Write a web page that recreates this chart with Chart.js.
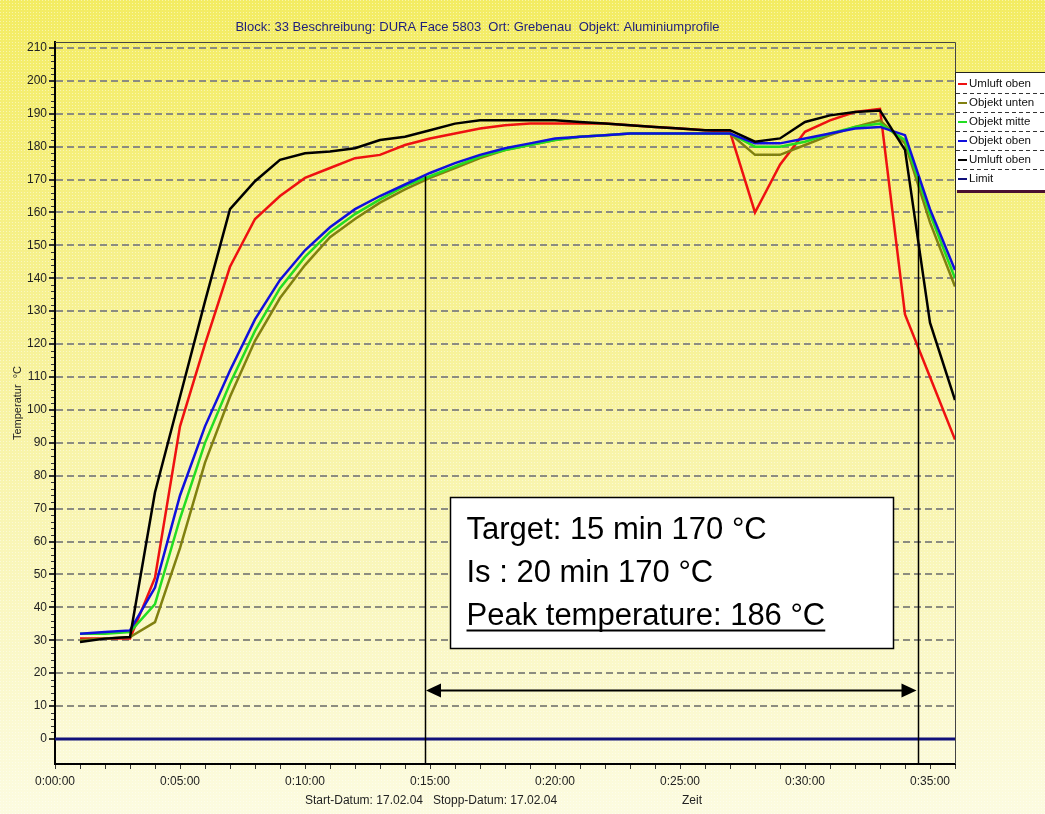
<!DOCTYPE html>
<html>
<head>
<meta charset="utf-8">
<script src="https://cdn.jsdelivr.net/npm/chart.js@4.4.1/dist/chart.umd.min.js"></script>
<style>
  html, body { margin: 0; padding: 0; background: #fbf9d0; }
  #wrap { width: 1045px; height: 814px; }
</style>
</head>
<body>
<div id="wrap"><canvas id="ofenChart" width="1045" height="814"></canvas></div>
<script>
// Messwerte je Minute (0:01:00 ... 0:36:00)
const minutes = [1,2,3,4,5,6,7,8,9,10,11,12,13,14,15,16,17,18,19,20,21,22,23,24,25,26,27,28,29,30,31,32,33,34,35,36];
const umluftObenRot = [30.5,30.5,30.5,49,95,120,143.5,158,165,170.5,173.5,176.5,177.5,180.5,182.5,184,185.5,186.5,187,187,187,187,186.5,186,185.5,185,184.5,160,174.5,184.5,188,190.5,191.5,129,110,91];
const objektUnten = [30,30.5,31,35.5,58,84,104,121,134,144,152.5,158,163,167,170.5,173.5,176.5,179,180.5,182,183,183.5,184,184,184,184,184,177.5,177.5,180.5,183.5,186,188,181,157,137.5];
const objektMitte = [32,32,32.5,41,67,90,108,124,137,146.5,154,159.5,164,168,171,174,177,179,180.5,182,183,183.5,184,184,184,184,184,180,180,181.5,184,186,187,182,159.5,140];
const objektOben = [32,32.5,33,46,74,95,112,127.5,139.5,148.5,155.5,161,165,168.5,172,175,177.5,179.5,181,182.5,183,183.5,184,184,184,184,184,181,181,182.5,184,185.5,186,183.5,161,142.5];
const umluftObenSchwarz = [29.5,30.5,31,75,104,133,161,169.5,176,178,178.5,179.5,182,183,185,187,188,188,188,188,187.5,187,186.5,186,185.5,185,185,181.5,182.5,187.5,189.5,190.5,191,179,126.5,103];
const limitX = [0, 36];
const limitY = [0, 0];

const seriesNames = ["Umluft oben", "Objekt unten", "Objekt mitte", "Objekt oben", "Umluft oben", "Limit"];
const seriesColors = ["#ee1111", "#808010", "#22dd22", "#1010dd", "#000000", "#10107a"];

const yTicks = [0,10,20,30,40,50,60,70,80,90,100,110,120,130,140,150,160,170,180,190,200,210];
const xTickMinutes = [0,1,2,3,4,5,6,7,8,9,10,11,12,13,14,15,16,17,18,19,20,21,22,23,24,25,26,27,28,29,30,31,32,33,34,35,36];
const timeLabels = ["0:00:00","0:05:00","0:10:00","0:15:00","0:20:00","0:25:00","0:30:00","0:35:00"];

const chartTitle = "Block: 33 Beschreibung: DURA Face 5803  Ort: Grebenau  Objekt: Aluminiumprofile";
const datumText = "Start-Datum: 17.02.04   Stopp-Datum: 17.02.04";
const zeitText = "Zeit";
const noteLines = ["Target: 15 min 170 °C", "Is : 20 min 170 °C", "Peak temperature: 186 °C"];

// Markierungen (Minuten / °C)
const markerMinutes = [14.8, 34.5];
const markerTop = 171;
const arrowLevel = 15;
const noteBox = { x1: 15.8, x2: 33.5, y1: 73.5, y2: 27.5 };

const FONT = "'Liberation Sans', Arial, sans-serif";

const allSeries = [umluftObenRot, objektUnten, objektMitte, objektOben, umluftObenSchwarz];
const datasets = allSeries.map((vals, i) => ({
  label: seriesNames[i],
  data: vals.map((v, j) => ({ x: minutes[j], y: v })),
  borderColor: seriesColors[i],
  backgroundColor: seriesColors[i],
  borderWidth: 2.5,
  order: 10 - i
}));
datasets.push({
  label: seriesNames[5],
  data: limitX.map((x, j) => ({ x: x, y: limitY[j] })),
  borderColor: seriesColors[5],
  backgroundColor: seriesColors[5],
  borderWidth: 3,
  order: 1
});

const backgroundPlugin = {
  id: "background",
  beforeDraw(chart) {
    const { ctx, width, height } = chart;
    const g = ctx.createLinearGradient(0, 0, 0, height);
    g.addColorStop(0, "#f3ec62");
    g.addColorStop(0.45, "#f7f29c");
    g.addColorStop(1, "#fcfbe0");
    ctx.save();
    ctx.fillStyle = g;
    ctx.fillRect(0, 0, width, height);
    const tile = document.createElement("canvas");
    tile.width = 3; tile.height = 3;
    const tctx = tile.getContext("2d");
    tctx.fillStyle = "rgba(255,255,255,0.45)";
    tctx.fillRect(0, 0, 1, 1);
    ctx.fillStyle = ctx.createPattern(tile, "repeat");
    ctx.fillRect(0, 0, width, height);
    ctx.restore();
  }
};

const overlayPlugin = {
  id: "overlay",
  afterDatasetsDraw(chart) {
    const { ctx, chartArea } = chart;
    const xs = chart.scales.x, ys = chart.scales.y;
    ctx.save();

    // vertical markers
    ctx.strokeStyle = "#000";
    ctx.lineWidth = 1.5;
    markerMinutes.forEach(m => {
      const px = Math.round(xs.getPixelForValue(m)) + 0.5;
      ctx.beginPath();
      ctx.moveTo(px, ys.getPixelForValue(markerTop));
      ctx.lineTo(px, chartArea.bottom);
      ctx.stroke();
    });

    // double arrow
    const ax1 = xs.getPixelForValue(markerMinutes[0]) + 1;
    const ax2 = xs.getPixelForValue(markerMinutes[1]) - 1;
    const ay = Math.round(ys.getPixelForValue(arrowLevel)) + 0.5;
    ctx.lineWidth = 2;
    ctx.beginPath();
    ctx.moveTo(ax1 + 10, ay);
    ctx.lineTo(ax2 - 10, ay);
    ctx.stroke();
    ctx.fillStyle = "#000";
    ctx.beginPath();
    ctx.moveTo(ax1, ay); ctx.lineTo(ax1 + 15, ay - 7); ctx.lineTo(ax1 + 15, ay + 7); ctx.closePath();
    ctx.fill();
    ctx.beginPath();
    ctx.moveTo(ax2, ay); ctx.lineTo(ax2 - 15, ay - 7); ctx.lineTo(ax2 - 15, ay + 7); ctx.closePath();
    ctx.fill();

    // note box
    const bx1 = Math.round(xs.getPixelForValue(noteBox.x1)) + 0.5;
    const bx2 = Math.round(xs.getPixelForValue(noteBox.x2)) + 0.5;
    const by1 = Math.round(ys.getPixelForValue(noteBox.y1)) + 0.5;
    const by2 = Math.round(ys.getPixelForValue(noteBox.y2)) + 0.5;
    ctx.fillStyle = "#fff";
    ctx.fillRect(bx1, by1, bx2 - bx1, by2 - by1);
    ctx.lineWidth = 1.5;
    ctx.strokeStyle = "#000";
    ctx.strokeRect(bx1, by1, bx2 - bx1, by2 - by1);
    ctx.fillStyle = "#000";
    ctx.font = "31px " + FONT;
    ctx.textBaseline = "alphabetic";
    ctx.textAlign = "left";
    const tx = bx1 + 16;
    const baselines = [by1 + 41, by1 + 84, by1 + 127];
    noteLines.forEach((t, i) => ctx.fillText(t, tx, baselines[i]));
    const uw = ctx.measureText(noteLines[2]).width;
    ctx.lineWidth = 2;
    ctx.beginPath();
    ctx.moveTo(tx, baselines[2] + 6);
    ctx.lineTo(tx + uw, baselines[2] + 6);
    ctx.stroke();
    ctx.restore();
  },
  afterDraw(chart) {
    const { ctx, chartArea, width } = chart;
    const ys = chart.scales.y;
    ctx.save();

    // frame top / right
    ctx.strokeStyle = "#444";
    ctx.lineWidth = 1;
    ctx.beginPath();
    ctx.moveTo(chartArea.left, chartArea.top + 0.5);
    ctx.lineTo(chartArea.right + 0.5, chartArea.top + 0.5);
    ctx.lineTo(chartArea.right + 0.5, chartArea.bottom);
    ctx.stroke();

    // minor y ticks
    ctx.strokeStyle = "#333";
    for (let v = 2; v < 211; v += 2) {
      if (v % 10 === 0) continue;
      const py = Math.round(ys.getPixelForValue(v)) + 0.5;
      ctx.beginPath();
      ctx.moveTo(chartArea.left - 4, py);
      ctx.lineTo(chartArea.left - 1, py);
      ctx.stroke();
    }

    // bottom texts
    ctx.fillStyle = "#222";
    ctx.font = "12px " + FONT;
    ctx.textAlign = "center";
    ctx.textBaseline = "middle";
    ctx.fillText(datumText, 431, 801);
    ctx.fillText(zeitText, 692, 801);

    // legend box
    const lx = chartArea.right, ly = 72, lw = width - chartArea.right, rowH = 19;
    const n = chart.data.datasets.length;
    const lh = n * rowH + 4;
    ctx.fillStyle = "#4a1030";
    ctx.fillRect(lx + 2, ly + lh, lw, 3);
    ctx.fillStyle = "#fff";
    ctx.fillRect(lx, ly, lw, lh);
    ctx.strokeStyle = "#222";
    ctx.beginPath();
    ctx.moveTo(lx + 0.5, ly); ctx.lineTo(lx + 0.5, ly + lh);
    ctx.moveTo(lx, ly + 0.5); ctx.lineTo(lx + lw, ly + 0.5);
    ctx.stroke();
    ctx.font = "11.5px " + FONT;
    ctx.textAlign = "left";
    chart.data.datasets.forEach((ds, i) => {
      const cy = ly + 12 + i * rowH;
      ctx.strokeStyle = ds.borderColor;
      ctx.lineWidth = 2;
      ctx.beginPath();
      ctx.moveTo(lx + 3, cy); ctx.lineTo(lx + 12, cy);
      ctx.stroke();
      ctx.fillStyle = "#111";
      ctx.fillText(ds.label, lx + 14, cy);
      if (i < n - 1) {
        ctx.strokeStyle = "#333";
        ctx.lineWidth = 1;
        ctx.setLineDash([4, 3]);
        ctx.beginPath();
        ctx.moveTo(lx + 1, cy + 9.5); ctx.lineTo(lx + lw, cy + 9.5);
        ctx.stroke();
        ctx.setLineDash([]);
      }
    });
    ctx.restore();
  }
};

new Chart(document.getElementById("ofenChart"), {
  type: "line",
  data: { datasets: datasets },
  options: {
    responsive: false,
    animation: false,
    layout: { padding: { top: 20, right: 90, bottom: 0, left: 0 } },
    elements: { point: { radius: 0 }, line: { tension: 0 } },
    plugins: {
      legend: { display: false },
      tooltip: { enabled: false },
      title: {
        display: true,
        text: chartTitle,
        color: "#1e1e7c",
        font: { family: FONT, size: 13, weight: "normal" },
        padding: { top: 0, bottom: 6.4 }
      }
    },
    scales: {
      x: {
        type: "linear",
        min: 0,
        max: 36,
        afterBuildTicks: s => { s.ticks = xTickMinutes.map(v => ({ value: v })); },
        afterFit: s => { s.height = 50; },
        grid: { drawOnChartArea: false, drawTicks: true, tickLength: 5, color: "#333" },
        border: { color: "#000", width: 2 },
        ticks: {
          autoSkip: false,
          maxRotation: 0,
          padding: 5,
          color: "#222",
          font: { family: FONT, size: 12 },
          callback: v => (v % 5 === 0 ? timeLabels[v / 5] : "")
        }
      },
      y: {
        min: -7.6,
        max: 211.8,
        afterBuildTicks: s => { s.ticks = yTicks.map(v => ({ value: v })); },
        afterFit: s => { s.width = 55; },
        grid: { color: "#8c8c80", tickColor: "#333", lineWidth: 2, tickLength: 6 },
        border: { color: "#000", width: 2, dash: [7, 4] },
        ticks: { padding: 2, color: "#222", font: { family: FONT, size: 12 } },
        title: {
          display: true,
          text: "Temperatur  °C",
          color: "#222",
          font: { family: FONT, size: 11 },
          padding: { top: 11, bottom: 0 }
        }
      }
    }
  },
  plugins: [backgroundPlugin, overlayPlugin]
});
</script>
</body>
</html>
